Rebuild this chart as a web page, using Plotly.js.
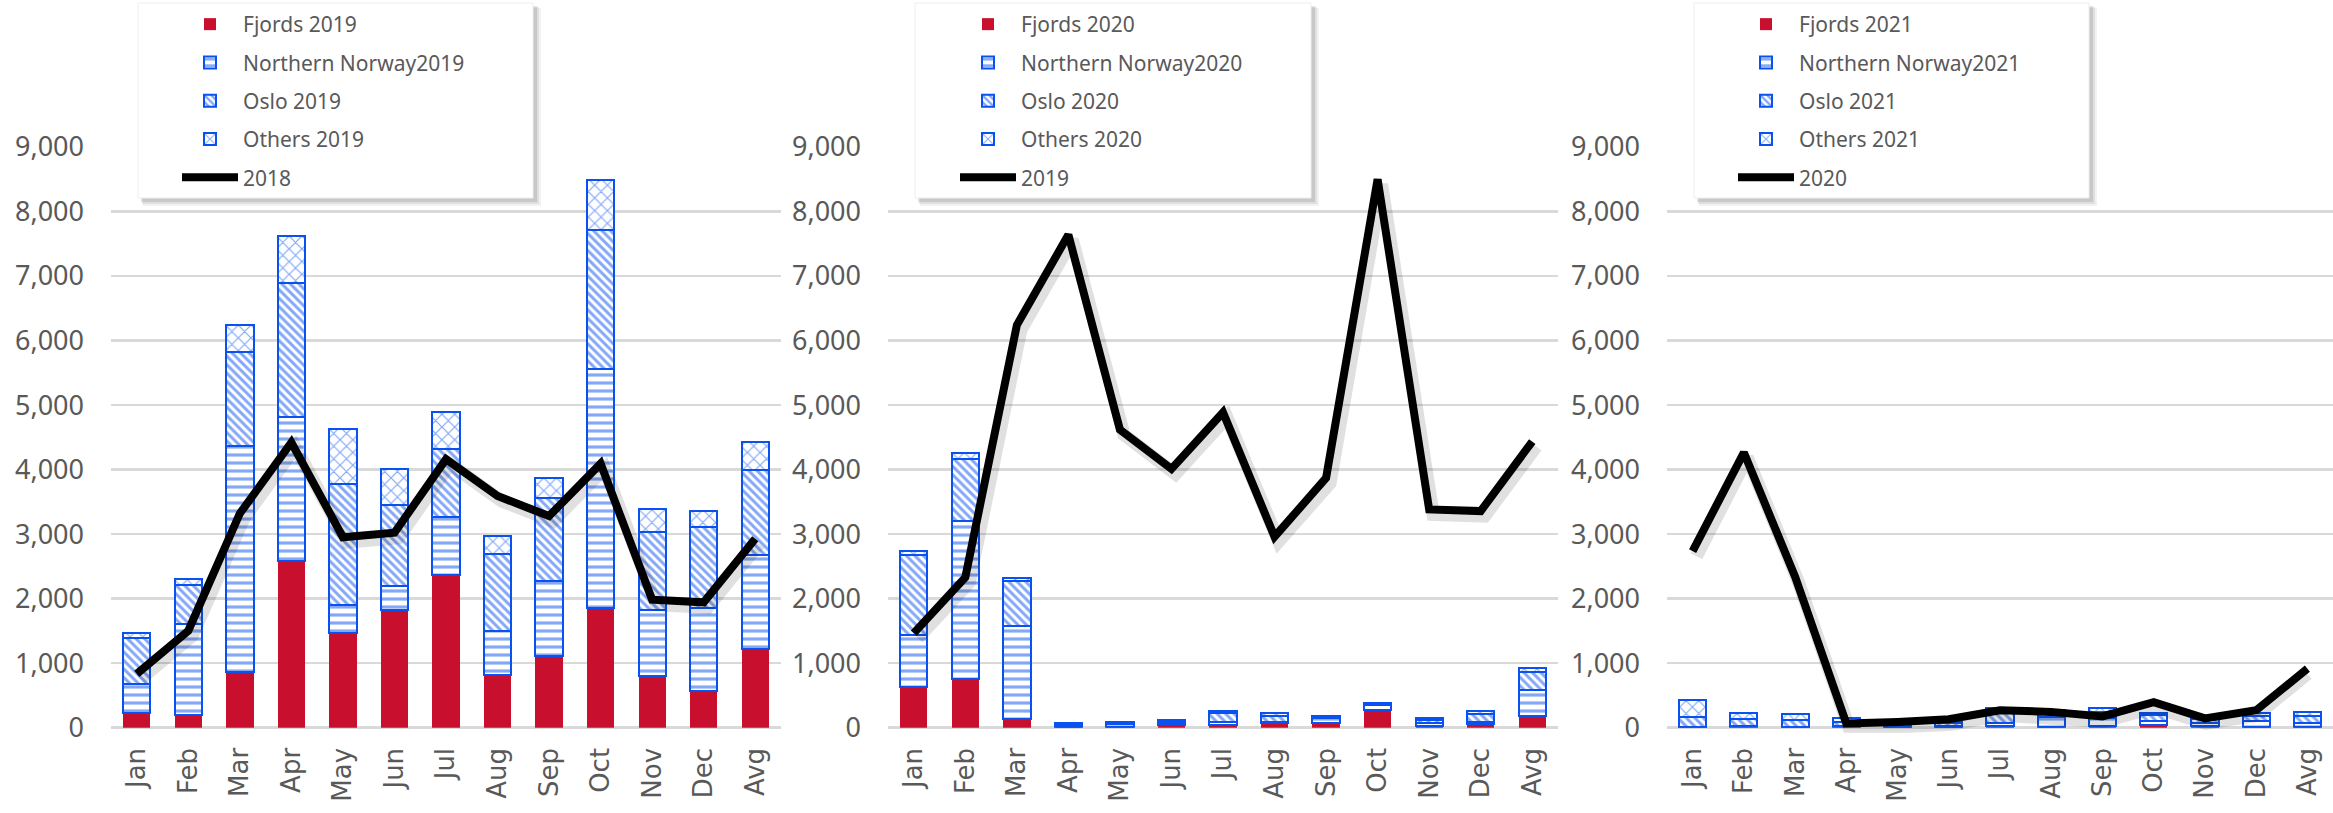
<!DOCTYPE html>
<html>
<head>
<meta charset="utf-8">
<script src="https://cdn.plot.ly/plotly-3.0.1.min.js"></script>
<style>html,body{margin:0;padding:0;background:#fff;}#chart{width:2333px;height:813px;}</style>
</head>
<body>
<div id="chart"></div>
<script>
const months = ['Jan','Feb','Mar','Apr','May','Jun','Jul','Aug','Sep','Oct','Nov','Dec','Avg'];

// Panel 1 (2019 bars, 2018 line)
const fjords2019 = [223,197,870,2580,1466,1819,2373,819,1104,1855,803,570,1223];
const nn2019     = [456,1414,3498,2228,430,373,896,673,1165,3706,1026,1285,1461];
const oslo2019   = [710,596,1452,2091,1886,1254,1047,1207,1285,2156,1207,1254,1311];
const others2019 = [77,104,420,724,845,559,570,270,322,764,347,248,440];
const line2018   = [834,1503,3320,4420,2953,3021,4161,3591,3280,4093,1984,1943,2927];

// Panel 2 (2020 bars, 2019 line)
const fjords2020 = [637,751,130,5,15,35,35,70,80,275,25,65,180];
const nn2020     = [803,2451,1440,40,45,45,60,20,70,70,50,25,405];
const oslo2020   = [1244,969,699,15,20,25,130,90,20,20,50,130,285];
const others2020 = [52,93,52,7,10,15,40,55,10,20,20,40,52];
const line2019   = [1466,2330,6240,7640,4620,4010,4886,2960,3870,8500,3383,3357,4435];

// Panel 3 (2021 bars, 2020 line)
const fjords2021 = [0,2,2,2,5,8,20,10,30,40,25,5,10];
const nn2021     = [10,20,15,30,15,20,60,150,120,60,50,100,60];
const oslo2021   = [150,110,100,60,20,40,180,60,100,90,60,80,110];
const others2021 = [270,90,90,60,15,25,50,60,60,40,35,50,60];
const line2020   = [2736,4264,2340,67,90,130,270,245,175,395,145,270,915];

const panels = [
  {year:'2019', prev:'2018', f:fjords2019, n:nn2019, o:oslo2019, t:others2019, l:line2018},
  {year:'2020', prev:'2019', f:fjords2020, n:nn2020, o:oslo2020, t:others2020, l:line2019},
  {year:'2021', prev:'2020', f:fjords2021, n:nn2021, o:oslo2021, t:others2021, l:line2020}
];

const W = 2333, H = 813;
const RED = '#C8102E', BLUE = '#0A52F0', GRAY = '#595959';
const plotPx = [[111,781],[888,1558],[1667,2336]];
const legendBox = [[138,533],[915,1311],[1694,2089]];
const legendTextX = [247,1025,1803];
const yDom = [(H-727.7)/H, (H-147)/H];
const shadowDx = 4, shadowDy = 5;

const data = [];
const layout = {
  width: W, height: H,
  margin: {l:0, r:0, t:0, b:0},
  paper_bgcolor: '#ffffff',
  plot_bgcolor: 'rgba(0,0,0,0)',
  barmode: 'stack',
  bargap: 0.47,
  showlegend: true,
  font: {family: 'Noto Sans', color: GRAY},
  shapes: []
};

panels.forEach((p, i) => {
  const k = i + 1;            // bar axes 1..3
  const ks = i + 4;           // shadow axes 4..6
  const kl = i + 7;           // line axes 7..9
  const xn = k === 1 ? 'x' : 'x' + k, yn = k === 1 ? 'y' : 'y' + k;
  const legName = k === 1 ? 'legend' : 'legend' + k;
  const dom = [plotPx[i][0] / W, Math.min(plotPx[i][1] / W, 1)];

  const barBase = {type: 'bar', x: months, xaxis: xn, yaxis: yn, legend: legName, hoverinfo: 'skip'};
  data.push(Object.assign({}, barBase, {
    name: 'Fjords ' + p.year, y: p.f, legendgroup: 'f' + k,
    marker: {color: RED, line: {color: RED, width: 0}}
  }));
  data.push(Object.assign({}, barBase, {
    name: 'Northern Norway' + p.year, y: p.n, legendgroup: 'n' + k,
    marker: {color: '#ffffff', line: {color: BLUE, width: 2},
      pattern: {shape: '-', fgcolor: BLUE, bgcolor: '#ffffff', size: 8, solidity: 0.4, fillmode: 'overlay'}}
  }));
  data.push(Object.assign({}, barBase, {
    name: 'Oslo ' + p.year, y: p.o, legendgroup: 'o' + k,
    marker: {color: '#ffffff', line: {color: BLUE, width: 2},
      pattern: {shape: '\\', fgcolor: BLUE, bgcolor: '#ffffff', size: 6, solidity: 0.5, fillmode: 'overlay'}}
  }));
  data.push(Object.assign({}, barBase, {
    name: 'Others ' + p.year, y: p.t, legendgroup: 't' + k,
    marker: {color: '#ffffff', line: {color: BLUE, width: 2},
      pattern: {shape: 'x', fgcolor: BLUE, bgcolor: '#ffffff', size: 9, solidity: 0.25, fillmode: 'overlay'}}
  }));
  // soft shadow of line
  data.push({
    type: 'scatter', mode: 'lines', x: months, y: p.l,
    xaxis: 'x' + ks, yaxis: 'y' + ks, showlegend: false, hoverinfo: 'skip',
    line: {color: 'rgba(0,0,0,0.12)', width: 13}
  });
  // line
  data.push({
    type: 'scatter', mode: 'lines', x: months, y: p.l, name: p.prev,
    xaxis: 'x' + kl, yaxis: 'y' + kl, legend: legName, legendgroup: 'l' + k,
    hoverinfo: 'skip',
    line: {color: '#000000', width: 8}
  });

  const axName = k === 1 ? '' : k;
  layout['xaxis' + axName] = {
    domain: dom, anchor: yn, type: 'category', range: [-0.5, 12.5],
    tickangle: -90, ticks: '', showgrid: false, showline: false, zeroline: false,
    ticklabelstandoff: 14,
    tickfont: {family: 'DejaVu Sans', size: 26, color: GRAY}
  };
  layout['yaxis' + axName] = {
    domain: yDom, anchor: xn, range: [0, 9000], dtick: 1000, tickformat: ',',
    ticks: '', showline: false, showgrid: true, gridcolor: '#d9d9d9', gridwidth: 2.5,
    zeroline: true, zerolinecolor: '#d9d9d9', zerolinewidth: 2.5,
    ticklabelstandoff: 26,
    tickfont: {family: 'Noto Sans', size: 27, color: GRAY}
  };
  // shadow axes (domain shifted a few pixels right and down)
  layout['xaxis' + ks] = {
    domain: [dom[0] + shadowDx / W, Math.min(dom[1] + shadowDx / W, 1)], anchor: 'y' + ks,
    type: 'category', range: [-0.5, 12.5], visible: false, showgrid: false, zeroline: false
  };
  layout['yaxis' + ks] = {
    domain: [yDom[0] - shadowDy / H, yDom[1] - shadowDy / H], anchor: 'x' + ks,
    range: [0, 9000], visible: false, showgrid: false, zeroline: false
  };
  // line axes (same frame as bars)
  layout['xaxis' + kl] = {
    domain: dom, anchor: 'y' + kl, type: 'category', range: [-0.5, 12.5],
    visible: false, showgrid: false, zeroline: false
  };
  layout['yaxis' + kl] = {
    domain: yDom, anchor: 'x' + kl, range: [0, 9000],
    visible: false, showgrid: false, zeroline: false
  };

  // legend
  layout[legName] = {
    x: (legendTextX[i] - 70) / W, y: 1 - 4 / H, xanchor: 'left', yanchor: 'top',
    bgcolor: 'rgba(0,0,0,0)', borderwidth: 0,
    font: {family: 'Noto Sans', size: 21, color: GRAY},
    itemwidth: 56, traceorder: 'grouped', tracegroupgap: 8,
    itemclick: false, itemdoubleclick: false
  };

  // legend box with soft shadow
  const bx0 = legendBox[i][0], bx1 = legendBox[i][1], by0 = 3, by1 = 198;
  const rect = (x0, x1, y0, y1, fill) => ({
    type: 'rect', xref: 'paper', yref: 'paper', layer: 'above',
    x0: x0 / W, x1: x1 / W, y0: 1 - y1 / H, y1: 1 - y0 / H,
    fillcolor: fill, line: {width: 0}
  });
  layout.shapes.push(rect(bx0 + 5, bx1 + 8, by0 + 5, by1 + 8, 'rgba(0,0,0,0.05)'));
  layout.shapes.push(rect(bx0 + 4, bx1 + 6, by0 + 4, by1 + 6, 'rgba(0,0,0,0.08)'));
  layout.shapes.push(rect(bx0 + 3, bx1 + 4, by0 + 3, by1 + 4, 'rgba(0,0,0,0.10)'));
  layout.shapes.push(rect(bx0, bx1, by0, by1, '#ffffff'));
  layout.shapes.push({
    type: 'rect', xref: 'paper', yref: 'paper', layer: 'above',
    x0: bx0 / W, x1: bx1 / W, y0: 1 - by1 / H, y1: 1 - by0 / H,
    fillcolor: 'rgba(0,0,0,0)', line: {width: 1, color: '#eeeeee'}
  });
});

Plotly.newPlot('chart', data, layout, {staticPlot: true, displayModeBar: false});
</script>
</body>
</html>
